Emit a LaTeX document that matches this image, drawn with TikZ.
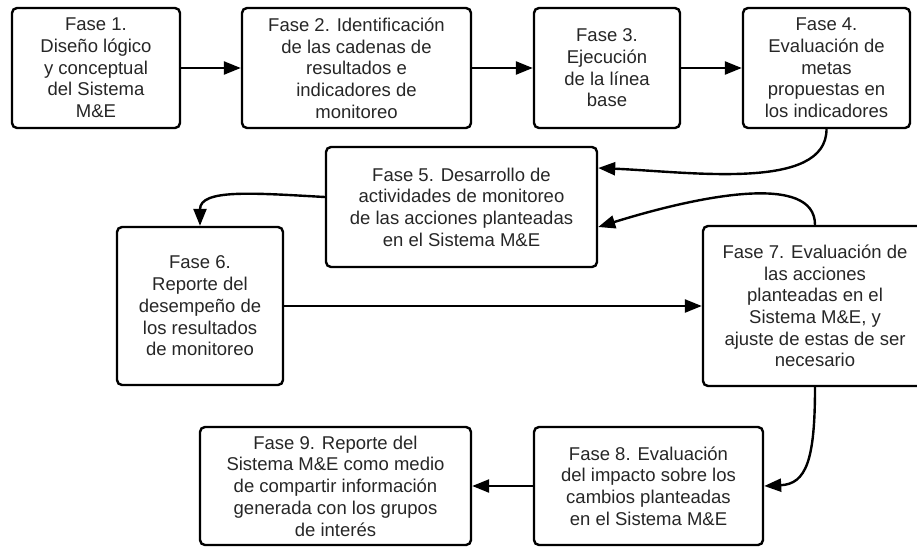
\documentclass[tikz,border=0pt]{standalone}
\usepackage{fontspec}
\setmainfont{Liberation Sans}
\usetikzlibrary{arrows.meta,calc}
\tikzset{
  phase/.style={draw=black, line width=2.4pt, rounded corners=5pt, inner sep=0pt,
    align=center, text=black!85, font=\fontsize{18.5}{21.7}\selectfont},
  arr/.style={draw=black, line width=2.4pt, -{Triangle[length=17pt,width=13pt]}}
}
\begin{document}
\begin{tikzpicture}[x=1pt,y=-1pt]
\useasboundingbox (0,0) rectangle (917,546);
\clip (0,0) rectangle (917,546);
\node[phase, minimum width=168pt, minimum height=120pt] (b1) at (96,68)
  {Fase 1.\\Diseño lógico\\y conceptual\\del Sistema\\M\&E};
\node[phase, minimum width=229pt, minimum height=120pt] (b2) at (356.5,68)
  {Fase 2. Identificación\\de las cadenas de\\resultados e\\indicadores de\\monitoreo};
\node[phase, minimum width=146pt, minimum height=120pt] (b3) at (607,68)
  {Fase 3.\\Ejecución\\de la línea\\base};
\node[phase, minimum width=167pt, minimum height=120pt] (b4) at (826.5,68)
  {Fase 4.\\Evaluación de\\metas\\propuestas en\\los indicadores};
\node[phase, minimum width=271pt, minimum height=120pt] (b5) at (461.5,207)
  {Fase 5. Desarrollo de\\actividades de monitoreo\\de las acciones planteadas\\en el Sistema M\&E};
\node[phase, minimum width=166pt, minimum height=158pt] (b6) at (200,306)
  {Fase 6.\\Reporte del\\desempeño de\\los resultados\\de monitoreo};
\node[phase, minimum width=224pt, minimum height=160pt] (b7) at (815,306)
  {Fase 7. Evaluación de\\las acciones\\planteadas en el\\Sistema M\&E, y\\ajuste de estas de ser\\necesario};
\node[phase, minimum width=229pt, minimum height=118pt] (b8) at (648.5,486)
  {Fase 8. Evaluación\\del impacto sobre los\\cambios planteadas\\en el Sistema M\&E};
\node[phase, minimum width=271pt, minimum height=118pt] (b9) at (335.5,486)
  {Fase 9. Reporte del\\Sistema M\&E como medio\\de compartir información\\generada con los grupos\\de interés};

\draw[arr] (b1.east) -- (b2.west);
\draw[arr] (b2.east) -- (b3.west);
\draw[arr] (b3.east) -- (b4.west);
\draw[arr] (b4.south) .. controls +(0,62) and +(93,4) .. ($(b5.east)+(0,-39)$);
\draw[arr] (b7.north) .. controls +(0,-52) and +(103,-32) .. ($(b5.east)+(0,20)$);
\draw[arr] ($(b5.west)+(0,-10)$) .. controls +(-72,-4) and +(0,-37) .. (b6.north);
\draw[arr] (b6.east) -- (b7.west);
\draw[arr] (b7.south) .. controls +(0,73) and +(42,-2) .. (b8.east);
\draw[arr] (b8.west) -- (b9.east);
\end{tikzpicture}
\end{document}
